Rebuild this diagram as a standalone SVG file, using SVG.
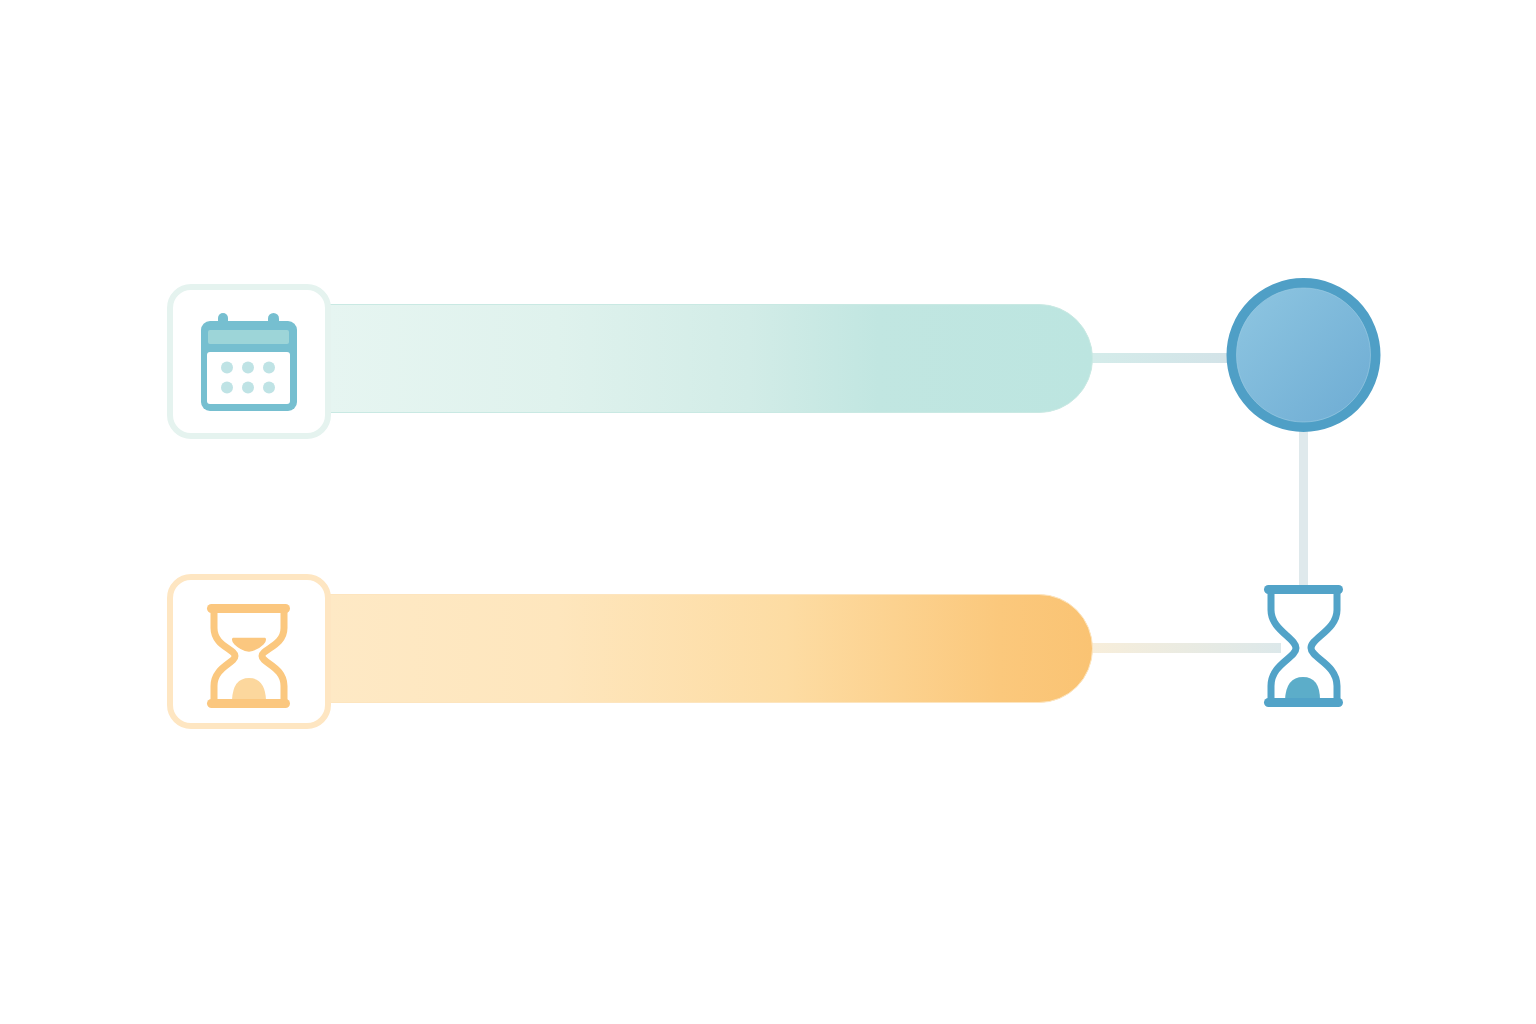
<svg xmlns="http://www.w3.org/2000/svg" width="1536" height="1024" viewBox="0 0 1536 1024">
<defs>
<linearGradient id="tealBar" x1="0" y1="0" x2="1" y2="0"><stop offset="0" stop-color="#e6f5f1"/><stop offset="0.3" stop-color="#dff2ed"/><stop offset="0.55" stop-color="#d2ece7"/><stop offset="0.72" stop-color="#c1e6e1"/><stop offset="1" stop-color="#bce5e0"/></linearGradient>
<linearGradient id="orangeBar" x1="0" y1="0" x2="1" y2="0"><stop offset="0" stop-color="#fee9c5"/><stop offset="0.3" stop-color="#fee6bd"/><stop offset="0.6" stop-color="#fddca3"/><stop offset="0.88" stop-color="#fbc87c"/><stop offset="1" stop-color="#fac373"/></linearGradient>
<linearGradient id="disc" x1="0.1" y1="0.1" x2="0.95" y2="0.9"><stop offset="0" stop-color="#8cc4e0"/><stop offset="1" stop-color="#6fadd4"/></linearGradient>
<linearGradient id="link1" x1="0" y1="0" x2="1" y2="0"><stop offset="0" stop-color="#d4ecea"/><stop offset="1" stop-color="#d3e3e8"/></linearGradient>
<linearGradient id="link2" x1="0" y1="0" x2="1" y2="0"><stop offset="0" stop-color="#f8eeda"/><stop offset="1" stop-color="#dce8ea"/></linearGradient>
</defs>
<style>
.frame{fill:#fff;stroke-width:6}
.glass{fill:none;stroke-width:7;stroke-linecap:round;stroke-linejoin:round}
</style>
<rect width="1536" height="1024" fill="#fff"/>
<g id="connectors">
<rect x="1090" y="353" width="140" height="10" fill="url(#link1)"/>
<rect x="1299" y="430" width="9" height="156" fill="#dfe9ec"/>
<rect x="1090" y="643" width="191" height="10" fill="url(#link2)"/>
</g>
<g id="bar-teal">
<path d="M328 304.500H1039A53.500 54 0 0 1 1039 412.500H328Z" fill="url(#tealBar)" stroke="#c9e9e3" stroke-width="1"/>
</g>
<g id="bar-orange">
<path d="M328 594.500H1039A53.500 54 0 0 1 1039 702.500H328Z" fill="url(#orangeBar)" stroke="#fde5bf" stroke-width="1"/>
</g>
<g id="node-calendar">
<rect class="frame" x="170" y="287" width="158" height="149" rx="21" stroke="#e5f3ef"/>
<rect x="218" y="313" width="10" height="16" rx="5" fill="#76bfd0"/>
<rect x="268" y="313" width="11" height="16" rx="5.500" fill="#76bfd0"/>
<rect x="201" y="321" width="96" height="90" rx="9" fill="#76bfd0"/>
<rect x="207" y="352" width="83" height="52" rx="3" fill="#fff"/>
<rect x="208" y="330" width="81" height="14" rx="2" fill="#9dd5d8"/>
<g fill="#bfe3e5">
<circle cx="227" cy="367.500" r="6"/><circle cx="248" cy="367.500" r="6"/><circle cx="269" cy="367.500" r="6"/>
<circle cx="227" cy="387.500" r="6"/><circle cx="248" cy="387.500" r="6"/><circle cx="269" cy="387.500" r="6"/>
</g>
</g>
<g id="node-hourglass-orange">
<rect class="frame" x="170" y="577" width="158" height="149" rx="21" stroke="#fee6c2"/>
<path d="M233 638.500H265Q266 641 263 644Q257 650 249 651Q241 650 235 644Q232 641 233 638.500Z" fill="#fbc77f" stroke="#fbc77f" stroke-width="1.500" stroke-linejoin="round"/>
<path d="M232 700Q233 678 249 678Q265 678 266 700Z" fill="#fcd79d"/>
<path class="glass" stroke="#fbc87f" d="M214 608V628C214 646 235 649 235 656C235 663 214 667 214 686V704M284 608V628C284 646 262 649 262 656C262 663 284 667 284 686V704"/>
<rect x="207" y="604" width="83" height="9" rx="4.500" fill="#fbc77f"/>
<rect x="207" y="699" width="83" height="9" rx="4.500" fill="#fbc77f"/>
</g>
<g id="node-circle">
<circle cx="1303.500" cy="355" r="72" fill="url(#disc)" stroke="#4f9fc6" stroke-width="10"/>
<circle cx="1303.500" cy="355" r="67" fill="none" stroke="#9ccbe2" stroke-width="1" opacity="0.6"/>
</g>
<g id="node-hourglass-blue">
<path d="M1285 700Q1286 677 1303 677Q1320 677 1320 700Z" fill="#5cadc9"/>
<path class="glass" stroke="#52a3c8" d="M1271 590V610C1271 630 1296 638 1296 648C1296 658 1271 664 1271 686V703M1337 590V610C1337 630 1311 638 1311 648C1311 658 1337 664 1337 686V703"/>
<rect x="1264" y="585" width="79" height="9" rx="4.500" fill="#52a3c8"/>
<rect x="1264" y="698" width="79" height="9" rx="4.500" fill="#52a3c8"/>
</g>
</svg>
